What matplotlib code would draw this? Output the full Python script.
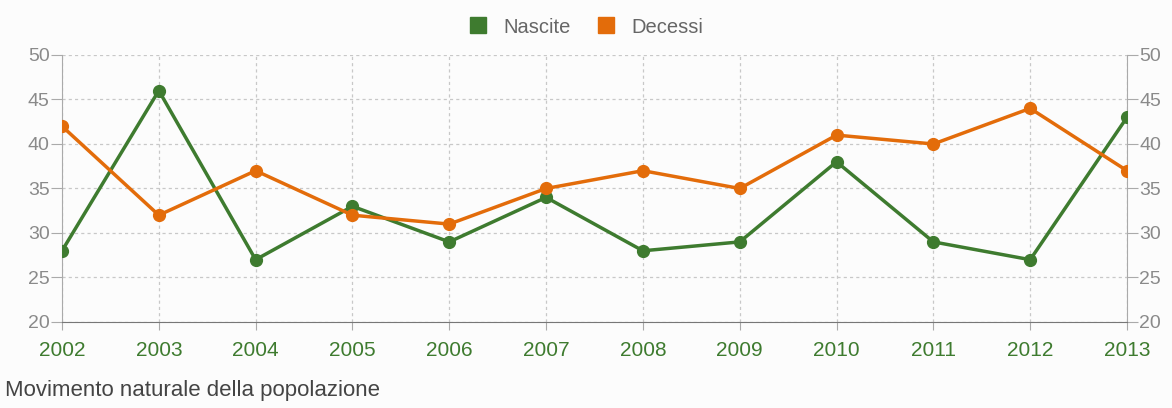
import matplotlib.pyplot as plt

plt.rcParams["font.family"] = ["Liberation Sans", "DejaVu Sans"]

anni = [2002, 2003, 2004, 2005, 2006, 2007, 2008, 2009, 2010, 2011, 2012, 2013]
nascite = [28, 46, 27, 33, 29, 34, 28, 29, 38, 29, 27, 43]
decessi = [42, 32, 37, 32, 31, 35, 37, 35, 41, 40, 44, 37]
yticks = [20, 25, 30, 35, 40, 45, 50]

verde = "#3e7b2f"
arancio = "#e36c0a"
grigio = "#8a8a8a"

fig = plt.figure(figsize=(11.72, 4.08), dpi=100, facecolor="#fcfcfc")
ax = fig.add_axes([0.0529, 0.2108, 0.9087, 0.6544])
ax.set_facecolor("#fcfcfc")

ax.plot(anni, nascite, color=verde, lw=2.5, marker="o", ms=8.5, label="Nascite", zorder=3)
ax.plot(anni, decessi, color=arancio, lw=2.5, marker="o", ms=8.5, label="Decessi", zorder=3)

ax.set_xlim(anni[0], anni[-1])
ax.set_ylim(20, 50)
ax.set_xticks(anni)
ax.set_yticks(yticks)
ax.grid(True, color="#c8c8c8", ls=(0, (2.5, 2.5)), lw=0.9)

ax.spines["top"].set_visible(False)
ax.spines["left"].set_color("#aaaaaa")
ax.spines["right"].set_color("#aaaaaa")
ax.spines["bottom"].set_color("#777777")

ax.tick_params(axis="y", which="both", left=True, right=True, labelleft=True, labelright=True,
               colors="#aaaaaa", labelcolor=grigio, labelsize=14, length=8, pad=1)
ax.tick_params(axis="x", colors="#aaaaaa", labelcolor=verde, labelsize=15, length=6, pad=8)

leg = ax.legend(loc="lower center", bbox_to_anchor=(0.492, 1.0), ncol=2, frameon=False,
                fontsize=14.5, handlelength=0.9, handleheight=1.0, handletextpad=0.8,
                columnspacing=1.3, labelcolor="#666666")
# quadratini nella legenda
for h in leg.legend_handles:
    h.set_marker("s")
    h.set_markersize(11)
    h.set_linestyle("none")

fig.text(0.004, 0.03, "Movimento naturale della popolazione", fontsize=16, color="#444444")

fig.savefig("out.png", dpi=100, facecolor=fig.get_facecolor())
